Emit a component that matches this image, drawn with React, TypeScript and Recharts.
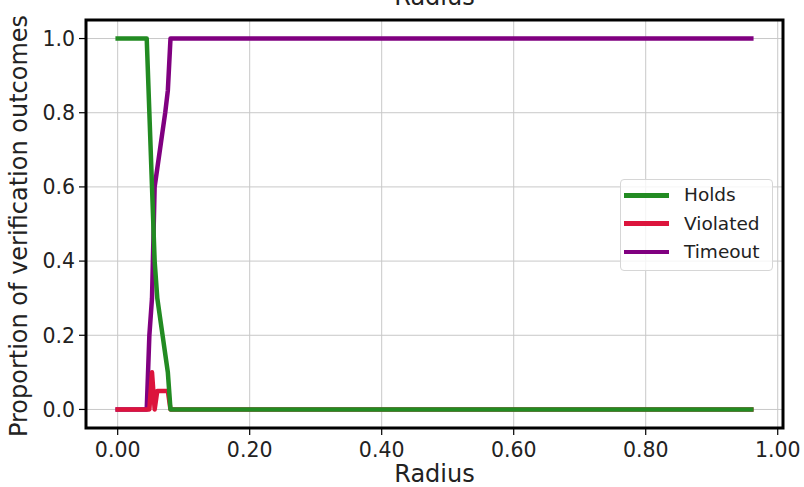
import React from 'react';
import { LineChart, Line, XAxis, YAxis, CartesianGrid, Legend, ReferenceArea } from 'recharts';

const radius = [0, 0.02, 0.04, 0.044, 0.048, 0.052, 0.056, 0.06, 0.064, 0.068, 0.072, 0.076, 0.08, 0.084, 0.1, 0.2, 0.3, 0.4, 0.5, 0.6, 0.7, 0.8, 0.9, 0.96];
const holds = [1, 1, 1, 1, 0.8, 0.6, 0.4, 0.3, 0.25, 0.2, 0.15, 0.1, 0, 0, 0, 0, 0, 0, 0, 0, 0, 0, 0, 0];
const violated = [0, 0, 0, 0, 0, 0.1, 0, 0.05, 0.05, 0.05, 0.05, 0.05, 0, 0, 0, 0, 0, 0, 0, 0, 0, 0, 0, 0];
const timeout = [0, 0, 0, 0, 0.2, 0.3, 0.6, 0.65, 0.7, 0.75, 0.8, 0.86, 1, 1, 1, 1, 1, 1, 1, 1, 1, 1, 1, 1];

const xTicks = [0, 0.2, 0.4, 0.6, 0.8, 1.0];
const yTicks = [0, 0.2, 0.4, 0.6, 0.8, 1.0];

const series = [
  { key: 'Holds', color: '#228b22' },
  { key: 'Violated', color: '#dc143c' },
  { key: 'Timeout', color: '#800080' },
];

const data = radius.map((r, i) => ({
  radius: r,
  Holds: holds[i],
  Violated: violated[i],
  Timeout: timeout[i],
}));

const FONT = '"DejaVu Sans", sans-serif';
const xDomain: [number, number] = [-0.048, 1.008];
const yDomain: [number, number] = [-0.05, 1.05];

const LegendBox: React.FC = () => (
  <div
    style={{
      position: 'relative',
      width: 153,
      height: 92,
      boxSizing: 'border-box',
      border: '1px solid #d6d6d6',
      borderRadius: 4,
      background: 'rgba(255,255,255,0.8)',
      fontFamily: FONT,
      fontSize: 18.5,
      color: '#222',
    }}
  >
    {series.map((s, i) => (
      <div key={s.key} style={{ position: 'absolute', left: 0, top: 15.3 + i * 28.4 - 12, height: 24, width: '100%' }}>
        <div style={{ position: 'absolute', left: 3, top: 9.75, width: 45, height: 4.5, background: s.color }} />
        <div style={{ position: 'absolute', left: 63, top: 0, lineHeight: '24px', whiteSpace: 'nowrap' }}>{s.key}</div>
      </div>
    ))}
  </div>
);

const App: React.FC = () => {
  return (
    <div style={{ position: 'absolute', left: 0, top: 0, width: 804, height: 487, background: '#fff' }}>
      <LineChart width={804} height={487} data={data} margin={{ top: 20, right: 21, left: 0, bottom: 0 }}>
        <CartesianGrid stroke="#c8c8c8" strokeWidth={1} />
        <XAxis
          dataKey="radius"
          type="number"
          domain={xDomain}
          ticks={xTicks}
          allowDataOverflow
          height={59}
          axisLine={false}
          tickSize={7}
          tickMargin={7}
          tickLine={{ stroke: '#000', strokeWidth: 1.2 }}
          tick={{ fill: '#222', fontSize: 20.5, fontFamily: FONT }}
          tickFormatter={(v: number) => v.toFixed(2)}
          label={{ value: 'Radius', content: ({ viewBox }: any) => (
            <g>
              <text x={viewBox.x + viewBox.width / 2} y={482} textAnchor="middle" fontSize={24} fontFamily={FONT} fill="#222">Radius</text>
              <text x={viewBox.x + viewBox.width / 2} y={5} textAnchor="middle" fontSize={24} fontFamily={FONT} fill="#222">Radius</text>
            </g>
          ) }}
        />
        <YAxis
          type="number"
          domain={yDomain}
          ticks={yTicks}
          allowDataOverflow
          width={86}
          axisLine={false}
          tickSize={7}
          tickMargin={4}
          tickLine={{ stroke: '#000', strokeWidth: 1.2 }}
          tick={{ fill: '#222', fontSize: 20.5, fontFamily: FONT }}
          tickFormatter={(v: number) => v.toFixed(1)}
          label={{ value: 'Proportion of verification outcomes', content: ({ viewBox }: any) => {
            const cy = viewBox.y + viewBox.height / 2 + 2;
            return (
              <text x={27} y={cy} transform={`rotate(-90, 27, ${cy})`} textAnchor="middle" fontSize={24} fontFamily={FONT} fill="#222">
                Proportion of verification outcomes
              </text>
            );
          } }}
        />
        <Legend
          layout="vertical"
          align="center"
          verticalAlign="middle"
          content={() => <LegendBox />}
          wrapperStyle={{ position: 'absolute', left: 620, top: 179, width: 153, height: 92 }}
        />
        {[...series].reverse().map((s) => (
          <Line
            key={s.key}
            dataKey={s.key}
            type="linear"
            stroke={s.color}
            strokeWidth={4.5}
            strokeLinecap="square"
            strokeLinejoin="round"
            dot={false}
            activeDot={false}
            isAnimationActive={false}
          />
        ))}
        <ReferenceArea x1={xDomain[0]} x2={xDomain[1]} y1={yDomain[0]} y2={yDomain[1]} fill="none" fillOpacity={0} stroke="#000" strokeWidth={3} ifOverflow="visible" />
      </LineChart>
    </div>
  );
};

export default App;
